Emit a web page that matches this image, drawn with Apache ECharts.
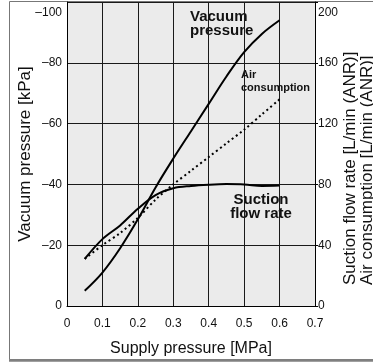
<!DOCTYPE html>
<html>
<head>
<meta charset="utf-8">
<script src="https://cdn.jsdelivr.net/npm/echarts@6/dist/echarts.min.js"></script>
<style>
  html, body { margin: 0; padding: 0; background: #fff; }
  #chart { width: 373px; height: 362px; }
</style>
</head>
<body>
<div id="chart"></div>
<script>
// Supply pressure [MPa] at which each curve is sampled
const supplyPressure = [0.05, 0.1, 0.15, 0.2, 0.25, 0.3, 0.35, 0.4, 0.45, 0.5, 0.55, 0.6];
// Vacuum pressure [kPa] (left axis)
const vacuumPressure = [-5, -11, -19, -28.5, -39, -48.5, -57.5, -66.5, -75.5, -83.5, -89.5, -94];
// Suction flow rate [L/min (ANR)] (right axis)
const suctionFlow = [31, 44, 53, 64, 73, 77.5, 79, 79.8, 80.2, 80, 79, 79.2];
// Air consumption [L/min (ANR)] (right axis)
const airConsumption = [31, 40, 48, 58, 70, 80, 89, 98, 107, 116, 126, 136];

const xTicks = { min: 0, max: 0.7, step: 0.1 };
const vacuumTicks = { min: -100, max: 0, step: 20 };
const flowTicks = { min: 0, max: 200, step: 40 };

const pairs = ys => supplyPressure.map((x, i) => [x, ys[i]]);

const tickFont = "'Liberation Sans Narrow', 'Liberation Sans', Arial, sans-serif";
const textFont = "'Liberation Sans', Arial, sans-serif";

const chart = echarts.init(document.getElementById('chart'), null, { renderer: 'canvas' });

chart.setOption({
  animation: false,
  backgroundColor: '#ffffff',
  grid: {
    left: 67, right: 58, top: 2, bottom: 56,
    show: true, backgroundColor: '#ebebeb', borderWidth: 0
  },
  xAxis: {
    type: 'value',
    min: xTicks.min, max: xTicks.max, interval: xTicks.step,
    name: 'Supply pressure [MPa]',
    nameLocation: 'middle', nameGap: 35,
    nameTextStyle: { fontFamily: textFont, fontSize: 16, color: '#111' },
    axisLine: { show: true, lineStyle: { color: '#000', width: 1 } },
    axisTick: { show: false },
    axisLabel: {
      margin: 12, fontFamily: tickFont, fontSize: 12, color: '#111',
      formatter: v => (v === 0 ? '0' : v.toFixed(1))
    },
    splitLine: { show: true, lineStyle: { color: '#1a1a1a', width: 1 } }
  },
  yAxis: [
    {
      type: 'value',
      inverse: true,
      min: vacuumTicks.min, max: vacuumTicks.max, interval: vacuumTicks.step,
      position: 'left',
      name: 'Vacuum pressure [kPa]',
      nameLocation: 'middle', nameGap: 33, nameMoveOverlap: false,
      nameTextStyle: { fontFamily: textFont, fontSize: 17, color: '#111' },
      axisLine: { show: true, lineStyle: { color: '#000', width: 1 } },
      axisTick: { show: false },
      axisLabel: {
        margin: 5, fontFamily: tickFont, fontSize: 12, color: '#111',
        formatter: v => {
          const s = String(v).replace('-', '\u2013');
          return v === vacuumTicks.min ? '{edge|' + s + '}' : s;
        },
        rich: { edge: { padding: [22, 0, 0, 0], fontFamily: tickFont, fontSize: 12, color: '#111' } }
      },
      splitLine: { show: true, lineStyle: { color: '#1a1a1a', width: 1 } }
    },
    {
      type: 'value',
      min: flowTicks.min, max: flowTicks.max, interval: flowTicks.step,
      position: 'right',
      axisLine: { show: true, lineStyle: { color: '#000', width: 1 } },
      axisTick: { show: true, length: 3, lineStyle: { color: '#000' } },
      axisLabel: {
        margin: 3, fontFamily: tickFont, fontSize: 12, color: '#111',
        formatter: v => (v === flowTicks.max ? '{edge|' + v + '}' : String(v)),
        rich: { edge: { padding: [22, 0, 0, 0], fontFamily: tickFont, fontSize: 12, color: '#111' } }
      },
      splitLine: { show: false }
    }
  ],
  series: [
    {
      name: 'Vacuum pressure', type: 'line', yAxisIndex: 0,
      data: pairs(vacuumPressure), smooth: 0.35, symbol: 'none',
      lineStyle: { color: '#000', width: 2 }
    },
    {
      name: 'Suction flow rate', type: 'line', yAxisIndex: 1,
      data: pairs(suctionFlow), smooth: 0.35, symbol: 'none',
      lineStyle: { color: '#000', width: 2 }
    },
    {
      name: 'Air consumption', type: 'line', yAxisIndex: 1,
      data: pairs(airConsumption), smooth: 0.3, symbol: 'none',
      lineStyle: { color: '#000', width: 2, type: [2, 3] }
    }
  ],
  graphic: [
    // outer frame of the figure
    {
      type: 'rect', silent: true, z: -1,
      shape: { x: 9.5, y: 1.5, width: 420, height: 358 },
      style: { fill: null, stroke: '#777', lineWidth: 1 }
    },
    {
      type: 'line', silent: true,
      shape: { x1: 9, y1: 360.5, x2: 373, y2: 360.5 },
      style: { stroke: '#808080', lineWidth: 2.5 }
    },
    // right-hand axis titles (shared axis)
    {
      type: 'text', x: 342, y: 285, rotation: Math.PI / 2,
      style: {
        text: 'Suction flow rate [L/min (ANR)]\nAir consumption [L/min (ANR)]',
        font: '17px ' + textFont, fill: '#111',
        align: 'left', verticalAlign: 'top', lineHeight: 17
      }
    },
    // curve annotations
    {
      type: 'text', x: 190, y: 10,
      style: {
        text: 'Vacuum\npressure', font: 'bold 15px ' + textFont, fill: '#111',
        align: 'left', verticalAlign: 'top', lineHeight: 14
      }
    },
    {
      type: 'text', x: 241, y: 68,
      style: {
        text: 'Air\nconsumption', font: 'bold 11px ' + textFont, fill: '#111',
        align: 'left', verticalAlign: 'top', lineHeight: 13
      }
    },
    {
      type: 'text', x: 261, y: 193,
      style: {
        text: 'Suction\nflow rate', font: 'bold 15px ' + textFont, fill: '#111',
        align: 'center', verticalAlign: 'top', lineHeight: 14
      }
    }
  ]
});
</script>
</body>
</html>
